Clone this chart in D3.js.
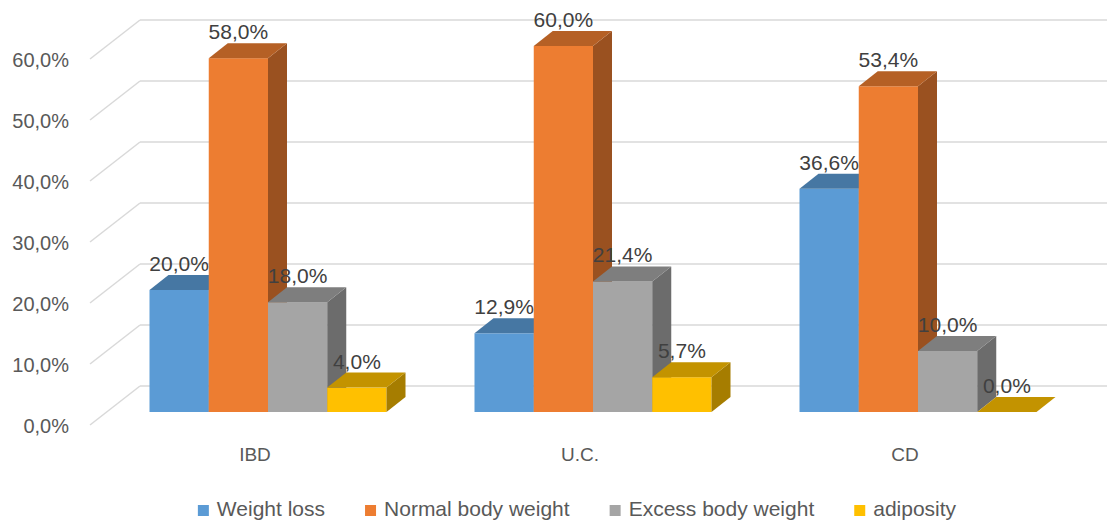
<!DOCTYPE html>
<html>
<head>
<meta charset="utf-8">
<script src="https://cdn.jsdelivr.net/npm/d3@7"></script>
<style>
  body { margin: 0; background: #fff; }
  svg { display: block; font-family: "Liberation Sans", Arial, sans-serif; }
</style>
</head>
<body>
<svg width="1107" height="522"></svg>
<script>
const categories = ["IBD", "U.C.", "CD"];
const seriesNames = ["Weight loss", "Normal body weight", "Excess body weight", "adiposity"];
const weightLoss = [0.200, 0.129, 0.366];
const normalWeight = [0.580, 0.600, 0.534];
const excessWeight = [0.180, 0.214, 0.100];
const adiposity = [0.040, 0.057, 0.000];
const yTicks = [0, 0.1, 0.2, 0.3, 0.4, 0.5, 0.6];
const colors = ["#5b9bd5", "#ed7d31", "#a5a5a5", "#ffc000"];

const seriesValues = [weightLoss, normalWeight, excessWeight, adiposity];

const svg = d3.select("svg");

// back wall scale, front face sits lower by barShift
const y = d3.scaleLinear().domain([0, 0.6]).range([386, 20]);
const floor = { dx: -50, dy: 39 };     // back wall -> front edge of floor
const depth = { dx: 19, dy: -15 };     // bar front -> bar back
const barShift = 26;

const x = d3.scaleBand().domain(categories).range([105.5, 1080.5]);
const xs = d3.scaleBand().domain(d3.range(seriesNames.length))
  .range([44, x.bandwidth() - 44]);

const fmt = v => d3.format(".1%")(v).replace(".", ",");

// grid
const grid = svg.append("g");
yTicks.forEach(t => {
  grid.append("line")
    .attr("x1", 140).attr("x2", 1107)
    .attr("y1", y(t)).attr("y2", y(t))
    .attr("stroke", "#d9d9d9").attr("stroke-width", 1.5);
  grid.append("line")
    .attr("x1", 140 + floor.dx).attr("x2", 140)
    .attr("y1", y(t) + floor.dy).attr("y2", y(t))
    .attr("stroke", "#d9d9d9").attr("stroke-width", 1.5);
  grid.append("text")
    .attr("x", 69).attr("y", y(t) + floor.dy + 1)
    .attr("text-anchor", "end")
    .attr("dominant-baseline", "central")
    .attr("fill", "#595959")
    .style("font-size", "20px")
    .text(fmt(t));
});

// bars, drawn left to right so each front face hides the previous side face
const yb = v => y(v) + barShift;
const bars = svg.append("g");
const labels = [];
categories.forEach((c, ci) => {
  seriesValues.forEach((vals, si) => {
    const v = vals[ci];
    const x0 = x(c) + xs(si), x1 = x0 + xs.bandwidth();
    const yt = yb(v), y0 = yb(0);
    const col = d3.color(colors[si]);
    const top = col.darker(0.75), side = col.darker(1.2);
    const g = bars.append("g");
    if (v > 0) {
      g.append("rect").attr("x", x0).attr("y", yt)
        .attr("width", x1 - x0).attr("height", y0 - yt)
        .attr("fill", colors[si]);
      g.append("path")
        .attr("d", `M${x1},${yt}L${x1 + depth.dx},${yt + depth.dy}L${x1 + depth.dx},${y0 + depth.dy}L${x1},${y0}Z`)
        .attr("fill", side);
    }
    g.append("path")
      .attr("d", `M${x0},${yt}L${x1},${yt}L${x1 + depth.dx},${yt + depth.dy}L${x0 + depth.dx},${yt + depth.dy}Z`)
      .attr("fill", top);
    labels.push({ x: (x0 + x1) / 2, y: yt + depth.dy - 4, v });
  });
});

svg.append("g").selectAll("text").data(labels).join("text")
  .attr("x", d => d.x).attr("y", d => d.y)
  .attr("text-anchor", "middle")
  .attr("fill", "#404040")
  .style("font-size", "21px")
  .text(d => fmt(d.v));

// category labels
svg.append("g").selectAll("text").data(categories).join("text")
  .attr("x", d => x(d) + x.bandwidth() / 2 - 13)
  .attr("y", 461)
  .attr("text-anchor", "middle")
  .attr("fill", "#595959")
  .style("font-size", "19px")
  .text(d => d);

// legend
const legend = svg.append("g");
let lx = 0;
seriesNames.forEach((name, i) => {
  const item = legend.append("g").attr("transform", `translate(${lx},0)`);
  item.append("rect").attr("x", 0).attr("y", 505).attr("width", 11).attr("height", 11)
    .attr("fill", colors[i]);
  const t = item.append("text").attr("x", 19).attr("y", 516)
    .attr("fill", "#595959")
    .style("font-size", "21px")
    .text(name);
  lx += 19 + t.node().getComputedTextLength() + 40;
});
const legendW = lx - 40;
legend.attr("transform", `translate(${577 - legendW / 2},0)`);
</script>
</body>
</html>
